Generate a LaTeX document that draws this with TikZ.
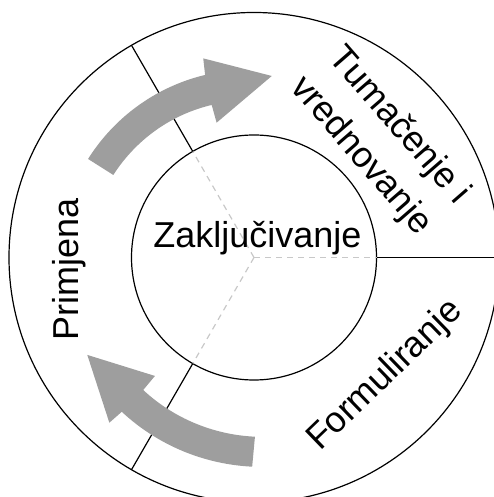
\documentclass[tikz,border=0pt]{standalone}
\usepackage{fontspec}
\setmainfont{Liberation Sans}
\definecolor{arrowgray}{RGB}{158,158,158}
\definecolor{dashgray}{RGB}{200,200,200}
\begin{document}
\begin{tikzpicture}[x=1pt,y=1pt,
  ring/.style={circle, draw=black, line width=1.2pt, inner sep=0pt, outer sep=0pt},
  divider/.style={draw=black, line width=1.2pt},
  guide/.style={draw=dashgray, line width=1.2pt, dash pattern=on 6pt off 5pt},
  bigarrow/.style={fill=arrowgray, draw=none},
  txt/.style={font=\fontsize{36}{48}\selectfont, inner sep=0pt, outer sep=0pt}]
\useasboundingbox (0,0) rectangle (493,497);
\coordinate (C) at (254,239.5);
\node[ring, minimum size=490pt] (outer) at (C) {};
\node[ring, minimum size=245pt] (inner) at (C) {};
% dashed guides
\draw[guide] (C) -- (inner.0);
\draw[guide] (C) -- (inner.120);
\draw[guide] (C) -- (inner.240);
% dividers
\draw[divider] (inner.0) -- (outer.0);
\draw[divider] (inner.120) -- (outer.120);
\draw[divider] (inner.240) -- (outer.240);
% arrows
\begin{scope}[shift={(C)}]
\fill[bigarrow] plot[domain=149.3:105,samples=40] (\x:{193+(\x-149.3)*(189-193)/(105-149.3)})
  -- (104.3:205.5) -- (84.4:182.4) -- (105.5:139.9) -- (105.5:158.3)
  -- plot[domain=105.5:149.6,samples=40] (\x:{158.3+(\x-105.5)*(163.1-158.3)/(149.6-105.5)}) -- cycle;
\fill[bigarrow] plot[domain=269.5:229.4,samples=40] (\x:{209.2+(\x-269.5)*(203.2-209.2)/(229.4-269.5)})
  -- (228.8:219.6) -- (210.3:193.1) -- (230.1:154.4) -- (230.1:172.7)
  -- plot[domain=230.1:270.3,samples=40] (\x:{172.7+(\x-230.1)*(179.2-172.7)/(270.3-230.1)}) -- cycle;
\end{scope}
% texts
\node[txt, anchor=base] (zak) at (257.5,249) {Zaključivanje};
\node[txt, anchor=base, rotate=90] (prim) at (78,228) {Primjena};
\node[txt, anchor=base, rotate=44] (form) at (392,114.5) {Formuliranje};
\node[txt, anchor=base, rotate=-49] (tum1) at (391.7,364.8) {Tumačenje i};
\node[txt, anchor=base, rotate=-49] (tum2) at (353.8,334.8) {vrednovanje};
\end{tikzpicture}
\end{document}
